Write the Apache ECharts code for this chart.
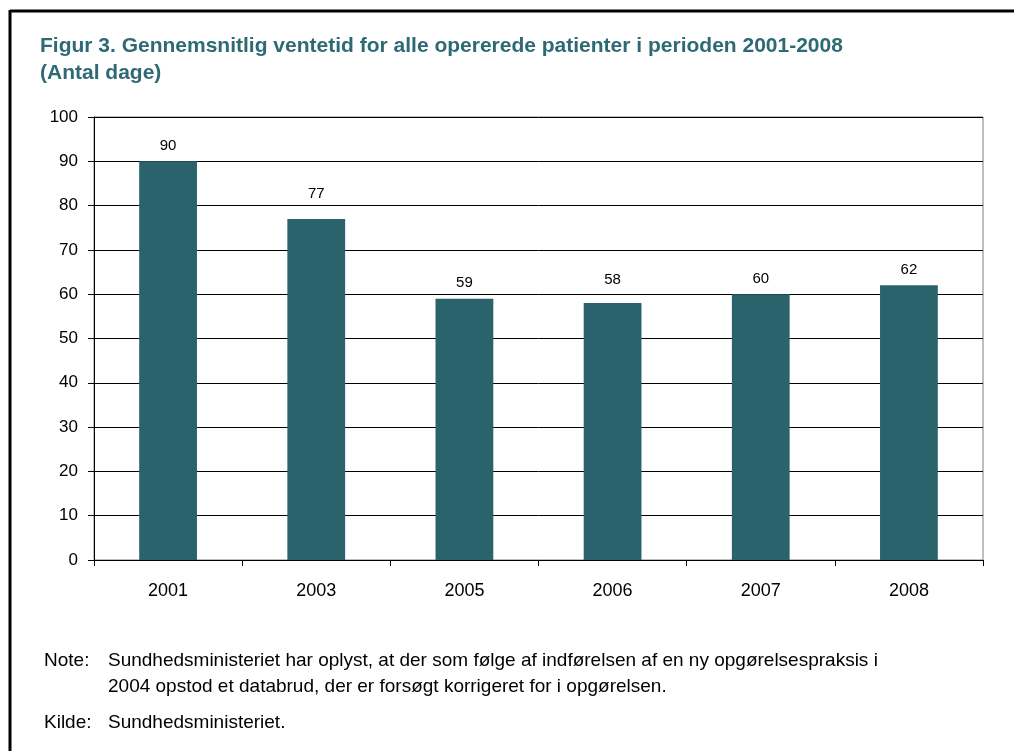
<!DOCTYPE html>
<html>
<head>
<meta charset="utf-8">
<script src="https://cdn.jsdelivr.net/npm/echarts@6/dist/echarts.min.js"></script>
<style>
html,body{margin:0;padding:0;background:#fff;}
#chart{width:1014px;height:751px;}
</style>
</head>
<body>
<div id="chart"></div>
<script>
const categories = ['2001', '2003', '2005', '2006', '2007', '2008'];
const waitDays = [90, 77, 59, 58, 60, 62];
const yTicks = [0, 10, 20, 30, 40, 50, 60, 70, 80, 90, 100];
const titleLines = ['Figur 3. Gennemsnitlig ventetid for alle opererede patienter i perioden 2001-2008', '(Antal dage)'];
const noteLabel = 'Note:';
const noteLines = ['Sundhedsministeriet har oplyst, at der som følge af indførelsen af en ny opgørelsespraksis i', '2004 opstod et databrud, der er forsøgt korrigeret for i opgørelsen.'];
const sourceLabel = 'Kilde:';
const sourceText = 'Sundhedsministeriet.';

// extra lift (px) of some value labels, as placed in the original
const labelLift = { 1: 10, 3: 8 };

const FONT = '"Liberation Sans", Arial, Helvetica, sans-serif';
const txt = (t, x, y) => ({
  type: 'text', left: x, top: y,
  style: { text: t, fontFamily: FONT, fontSize: 19, fill: '#000', lineHeight: 26 }
});
const barData = waitDays.map((v, i) => labelLift[i]
  ? { value: v, label: { offset: [0, -labelLift[i]] } }
  : v);

const chart = echarts.init(document.getElementById('chart'));
chart.setOption({
  backgroundColor: '#fff',
  animation: false,
  textStyle: { fontFamily: FONT },
  title: {
    text: titleLines.join('\n'),
    left: 40, top: 33, padding: 0,
    textStyle: { fontFamily: FONT, fontSize: 21, fontWeight: 'bold', color: '#2E6A74', lineHeight: 27 }
  },
  grid: {
    left: 94, top: 117, right: 31, bottom: 191,
    show: true, borderColor: '#7f7f7f', borderWidth: 1
  },
  xAxis: {
    type: 'category',
    data: categories,
    boundaryGap: true,
    axisLine: { show: true, lineStyle: { color: '#000', width: 1 } },
    axisTick: { show: true, alignWithLabel: false, length: 6, lineStyle: { color: '#000' } },
    axisLabel: { fontFamily: FONT, fontSize: 18, color: '#000', margin: 22 }
  },
  yAxis: {
    type: 'value',
    min: yTicks[0], max: yTicks[yTicks.length - 1], interval: 10,
    axisLine: { show: true, lineStyle: { color: '#000', width: 1 } },
    axisTick: { show: true, length: 6, lineStyle: { color: '#000' } },
    axisLabel: { fontFamily: FONT, fontSize: 17, color: '#000', margin: 16 },
    splitLine: { show: true, lineStyle: { color: '#000', width: 1 } }
  },
  series: [{
    type: 'bar',
    data: barData,
    barWidth: '39%',
    itemStyle: { color: '#2B636D' },
    label: { show: true, position: 'top', distance: 8, fontFamily: FONT, fontSize: 15, color: '#000' }
  }],
  graphic: [
    { type: 'line', shape: { x1: 10, y1: 11, x2: 1014, y2: 11 }, style: { stroke: '#000', lineWidth: 3 } },
    { type: 'line', shape: { x1: 10, y1: 10, x2: 10, y2: 751 }, style: { stroke: '#000', lineWidth: 3 } },
    txt(noteLabel, 44, 648),
    txt(noteLines.join('\n'), 108, 648),
    txt(sourceLabel, 44, 710),
    txt(sourceText, 108, 710)
  ]
});
</script>
</body>
</html>
